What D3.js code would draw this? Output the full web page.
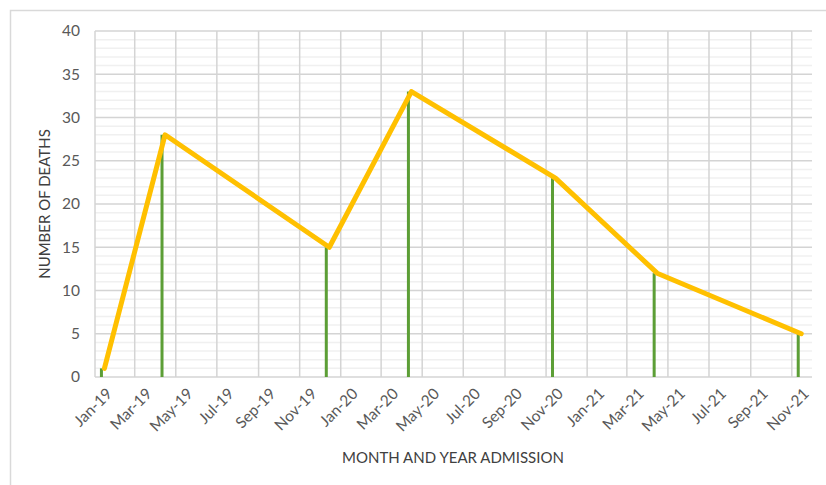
<!DOCTYPE html>
<html>
<head>
<meta charset="utf-8">
<script src="https://cdn.jsdelivr.net/npm/d3@7"></script>
<style>
  body { margin: 0; background: #fff; }
  svg text { font-family: Lato, "Open Sans", sans-serif; }
</style>
</head>
<body>
<svg id="chart" width="826" height="485"></svg>
<script>
// admission month (date) and number of deaths
const dates = ["2019-01-15", "2019-04-15", "2019-12-15", "2020-04-15", "2020-11-15", "2021-04-15", "2021-11-15"];
const deaths = [1, 28, 15, 33, 23, 12, 5];
const tickMonths = ["2019-01", "2019-03", "2019-05", "2019-07", "2019-09", "2019-11",
                    "2020-01", "2020-03", "2020-05", "2020-07", "2020-09", "2020-11",
                    "2021-01", "2021-03", "2021-05", "2021-07", "2021-09", "2021-11"];
const yTicks = [0, 5, 10, 15, 20, 25, 30, 35, 40];

const parse = d3.timeParse("%Y-%m-%d");
const parseM = d3.timeParse("%Y-%m");
const fmt = d3.timeFormat("%b-%y");

const data = dates.map((d, i) => ({date: parse(d), value: deaths[i]}));
const ticks = tickMonths.map(parseM);

const svg = d3.select("#chart");
const plotLeft = 95, plotRight = 812, plotTop = 31, plotBottom = 377;

// outer chart border
svg.append("rect")
    .attr("x", 10.5).attr("y", 10.5)
    .attr("width", 830).attr("height", 490)
    .attr("fill", "none")
    .attr("stroke", "#d9d9d9")
    .attr("stroke-width", 1.5);

const x = d3.scaleTime()
    .domain([parseM("2019-01"), parseM("2021-12")])
    .range([plotLeft, plotRight]);
const y = d3.scaleLinear()
    .domain([0, 40])
    .range([plotBottom, plotTop]);

// minor horizontal gridlines
svg.append("g").selectAll("line")
    .data(d3.range(0, 41, 1).filter(v => v % 5 !== 0))
    .join("line")
    .attr("x1", plotLeft).attr("x2", plotRight)
    .attr("y1", d => y(d)).attr("y2", d => y(d))
    .attr("stroke", "#f0f0f0").attr("stroke-width", 1.5);

// major horizontal gridlines
svg.append("g").selectAll("line")
    .data(yTicks)
    .join("line")
    .attr("x1", plotLeft).attr("x2", plotRight)
    .attr("y1", d => y(d)).attr("y2", d => y(d))
    .attr("stroke", "#d4d4d4").attr("stroke-width", 1.5);

// vertical gridlines
svg.append("g").selectAll("line")
    .data(ticks)
    .join("line")
    .attr("x1", d => x(d)).attr("x2", d => x(d))
    .attr("y1", plotTop).attr("y2", plotBottom)
    .attr("stroke", "#d4d4d4").attr("stroke-width", 1.5);

// y tick labels
svg.append("g").selectAll("text")
    .data(yTicks)
    .join("text")
    .attr("x", 80)
    .attr("y", d => y(d))
    .attr("dy", "0.35em")
    .attr("text-anchor", "end")
    .attr("fill", "#595959")
    .style("font-size", "15.5px")
    .text(d => d);

// x tick labels, centred in the month slot
const half = (x(parseM("2019-02")) - x(parseM("2019-01"))) / 2;
svg.append("g").selectAll("text")
    .data(ticks)
    .join("text")
    .attr("transform", d => `translate(${x(d) + half},${plotBottom + 10}) rotate(-45)`)
    .attr("text-anchor", "end")
    .attr("dy", "0.7em")
    .attr("fill", "#595959")
    .style("font-size", "15.5px")
    .text(d => fmt(d));

// bars
svg.append("g").selectAll("rect")
    .data(data)
    .join("rect")
    .attr("x", d => x(d.date) - 4.5)
    .attr("width", 3)
    .attr("y", d => y(d.value))
    .attr("height", d => plotBottom - y(d.value))
    .attr("fill", "#5c9e36");

// line
const line = d3.line()
    .x(d => x(d.date))
    .y(d => y(d.value));
svg.append("path")
    .datum(data)
    .attr("d", line)
    .attr("fill", "none")
    .attr("stroke", "#ffc000")
    .attr("stroke-width", 5)
    .attr("stroke-linejoin", "round")
    .attr("stroke-linecap", "round");

// axis titles
svg.append("text")
    .attr("transform", `translate(50,${(plotTop + plotBottom) / 2}) rotate(-90)`)
    .attr("text-anchor", "middle")
    .attr("fill", "#404040")
    .style("font-size", "15px")
    .text("NUMBER OF DEATHS");

svg.append("text")
    .attr("x", 453)
    .attr("y", 463)
    .attr("text-anchor", "middle")
    .attr("fill", "#404040")
    .style("font-size", "15px")
    .text("MONTH AND YEAR ADMISSION");
</script>
</body>
</html>
